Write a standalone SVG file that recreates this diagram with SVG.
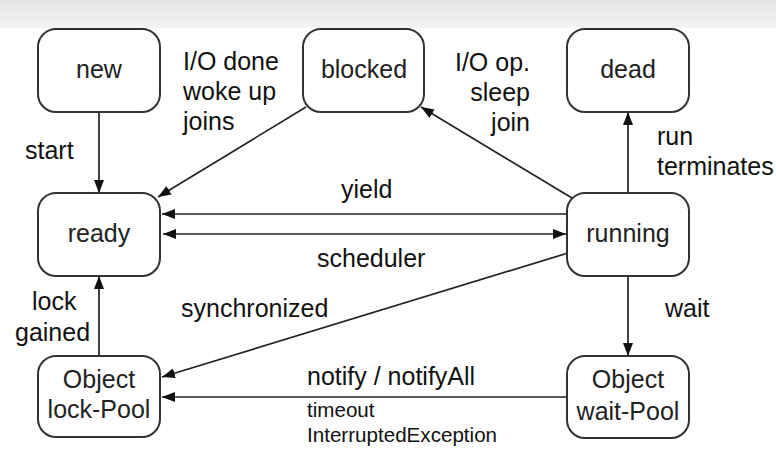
<svg xmlns="http://www.w3.org/2000/svg" width="776" height="449" viewBox="0 0 776 449">
<defs>
<linearGradient id="band" x1="0" y1="0" x2="0" y2="1">
<stop offset="0" stop-color="#e4e4e7"/>
<stop offset="1" stop-color="#f3f3f4"/>
</linearGradient>
<marker id="ah" viewBox="0 0 13 10" refX="13" refY="5" markerWidth="13" markerHeight="10" markerUnits="userSpaceOnUse" orient="auto-start-reverse">
<path d="M0,0 L13,5 L0,10 z" fill="#111"/>
</marker>
<style>
.node rect{fill:#fff;stroke:#333;stroke-width:2}
.nt{font-family:"Liberation Sans",Arial,sans-serif;font-size:25px;fill:#222;text-anchor:middle}
.lb{font-family:"Liberation Sans",Arial,sans-serif;font-size:25px;fill:#111}
.sm{font-family:"Liberation Sans",Arial,sans-serif;font-size:20.6px;fill:#111}
#edges path{fill:none;stroke:#222;stroke-width:1.7;marker-end:url(#ah)}
</style>
</defs>
<rect x="0" y="0" width="776" height="449" fill="#fff"/>
<rect x="0" y="0" width="776" height="28" fill="url(#band)"/>

<g id="edges">
<path d="M99 112 L99 193"/>
<path d="M306 107 L158 197"/>
<path d="M572 198 L421 107"/>
<path d="M628 193 L628 112"/>
<path d="M567 214 L162 214"/>
<path d="M163 234 L566 234" style="marker-start:url(#ah)"/>
<path d="M568 253 L162 377"/>
<path d="M628 276 L628 356"/>
<path d="M567 397 L162 397"/>
<path d="M99 356 L99 276"/>
</g>

<g id="labels">
<text class="lb" x="183" y="70">I/O done</text>
<text class="lb" x="183" y="100">woke up</text>
<text class="lb" x="183" y="130">joins</text>
<text class="lb" x="25" y="159">start</text>
<text class="lb" x="530" y="71" text-anchor="end">I/O op.</text>
<text class="lb" x="530" y="101" text-anchor="end">sleep</text>
<text class="lb" x="530" y="131" text-anchor="end">join</text>
<text class="lb" x="657" y="145">run</text>
<text class="lb" x="657" y="175">terminates</text>
<text class="lb" x="341" y="198">yield</text>
<text class="lb" x="317" y="267">scheduler</text>
<text class="lb" x="181" y="317">synchronized</text>
<text class="lb" x="665" y="317">wait</text>
<text class="lb" x="32" y="310">lock</text>
<text class="lb" x="15" y="341">gained</text>
<text class="lb" x="307" y="385">notify / notifyAll</text>
<text class="sm" x="307" y="417">timeout</text>
<text class="sm" x="307" y="442">InterruptedException</text>
</g>

<g id="new" class="node"><rect x="38" y="29" width="122" height="83" rx="18"/><text class="nt" x="99" y="78">new</text></g>
<g id="blocked" class="node"><rect x="303" y="29" width="121" height="83" rx="18"/><text class="nt" x="364" y="78">blocked</text></g>
<g id="dead" class="node"><rect x="567" y="29" width="122" height="83" rx="18"/><text class="nt" x="628" y="78">dead</text></g>
<g id="ready" class="node"><rect x="38" y="193" width="122" height="83" rx="18"/><text class="nt" x="99" y="242">ready</text></g>
<g id="running" class="node"><rect x="567" y="193" width="122" height="83" rx="18"/><text class="nt" x="628" y="242">running</text></g>
<g id="lockPool" class="node"><rect x="38" y="356" width="122" height="81" rx="18"/><text class="nt" x="99" y="388">Object</text><text class="nt" x="99" y="418">lock-Pool</text></g>
<g id="waitPool" class="node"><rect x="567" y="356" width="122" height="82" rx="18"/><text class="nt" x="628" y="388">Object</text><text class="nt" x="628" y="420">wait-Pool</text></g>
</svg>
